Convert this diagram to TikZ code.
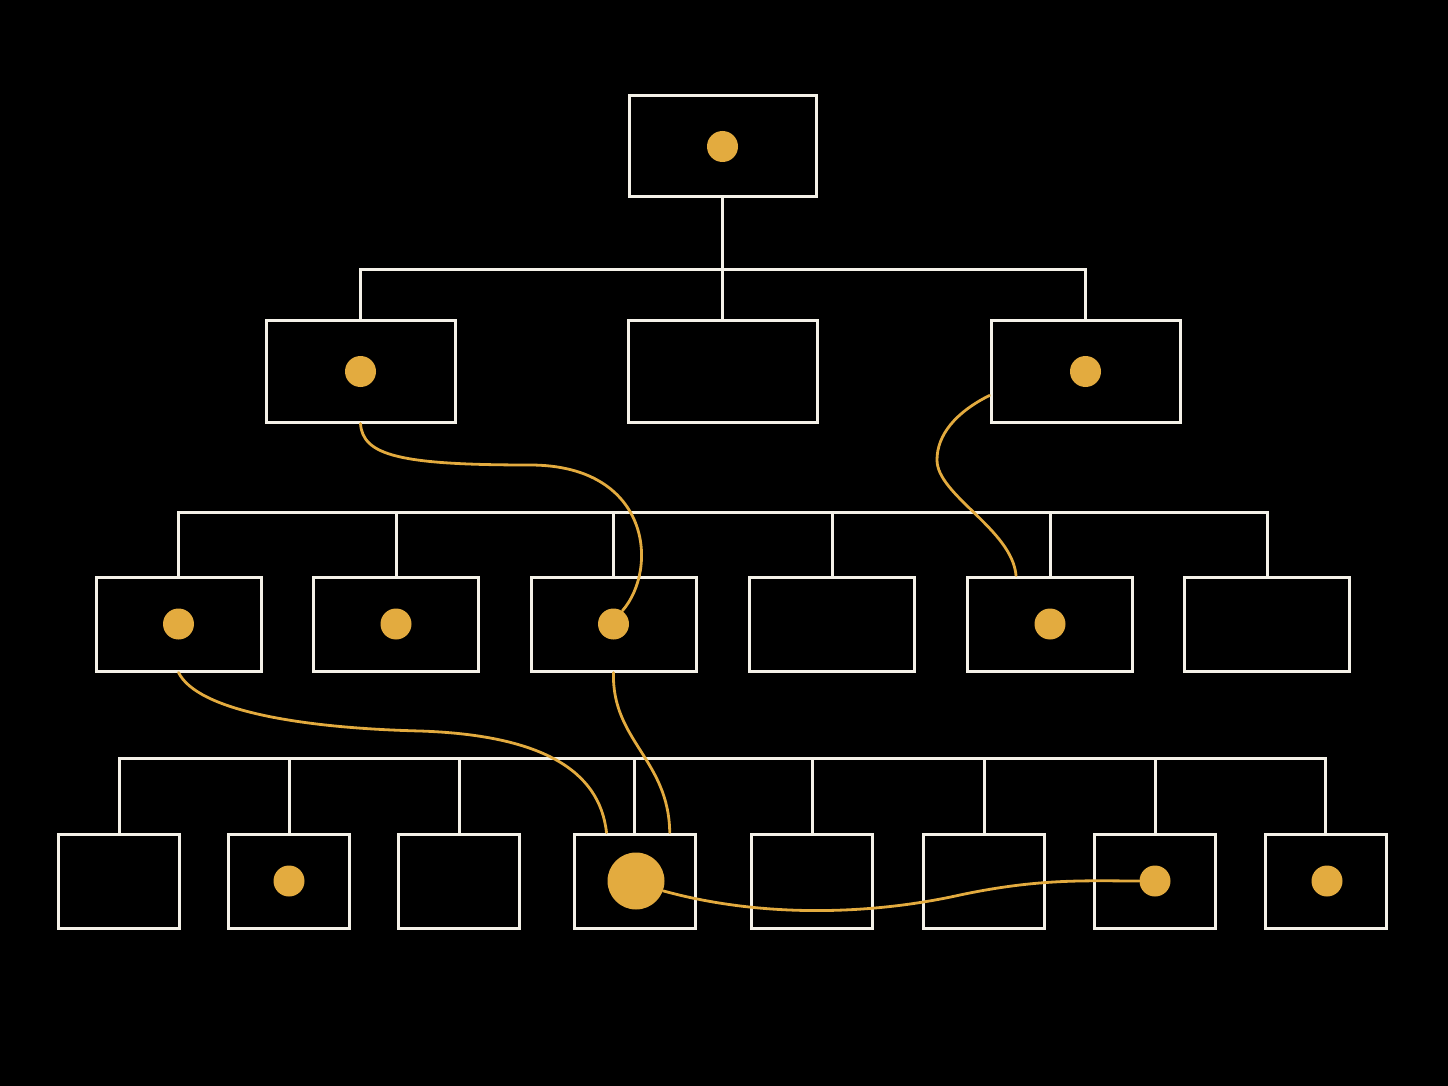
\documentclass[tikz,border=0pt]{standalone}
\definecolor{boxline}{HTML}{F4F1E8}
\definecolor{gold}{HTML}{E3AB3F}
\begin{document}
\begin{tikzpicture}[x=0.5pt,y=-0.5pt,
		box/.style={draw=boxline,line width=1.5pt,fill=black,inner sep=0pt},
		rootbox/.style={box,minimum width=93.5pt,minimum height=50.5pt},
		pbox/.style={box,minimum width=94.5pt,minimum height=50.5pt},
		cbox/.style={box,minimum width=82.5pt,minimum height=47pt},
		leafbox/.style={box,minimum width=60.5pt,minimum height=47pt},
		golddot/.style={circle,fill=gold,inner sep=0pt,minimum size=15.5pt},
		wire/.style={boxline,line width=1.5pt},
		trail/.style={gold,line width=1.4pt,line cap=round}]
			\fill[black] (0,0) rectangle (1448,1086);
			% boxes
			\node[rootbox] (root) at (722.5,146.5) {};
			\node[pbox] (b11) at (360.5,371.5) {};
			\node[pbox] (b12) at (722.5,371.5) {};
			\node[pbox] (b13) at (1085.5,371.5) {};
			\node[cbox] (b21) at (178.5,624) {};
			\node[cbox] (b22) at (396,624) {};
			\node[cbox] (b23) at (613.5,624) {};
			\node[cbox] (b24) at (832,624) {};
			\node[cbox] (b25) at (1050,624) {};
			\node[cbox] (b26) at (1267,624) {};
			\node[leafbox] (b31) at (119,881) {};
			\node[leafbox] (b32) at (289,881) {};
			\node[leafbox] (b33) at (459,881) {};
			\node[leafbox] (b34) at (634.5,881) {};
			\node[leafbox] (b35) at (812,881) {};
			\node[leafbox] (b36) at (984,881) {};
			\node[leafbox] (b37) at (1155,881) {};
			\node[leafbox] (b38) at (1325.5,881) {};
			% buses
			\coordinate (bus1) at (722.5,270);
			\coordinate (bus2) at (722.5,512);
			\coordinate (bus3) at (722.5,758);
			\draw[wire] (root.south)--(root.south |- bus1);
			\draw[wire] (b11.north) |- (bus1) -| (b13.north);
			\draw[wire] (b12.north)--(b12.north |- bus1);
			\draw[wire] (b21.north) |- (bus2) -| (b26.north);
			\draw[wire] (b22.north)--(b22.north |- bus2) (b23.north)--(b23.north |- bus2)
			(b24.north)--(b24.north |- bus2) (b25.north)--(b25.north |- bus2);
			\draw[wire] (b31.north) |- (bus3) -| (b38.north);
			\draw[wire] (b32.north)--(b32.north |- bus3) (b33.north)--(b33.north |- bus3)
			(b34.north)--(b34.north |- bus3) (b35.north)--(b35.north |- bus3)
			(b36.north)--(b36.north |- bus3) (b37.north)--(b37.north |- bus3);
			% dots
			\node[golddot] (d0) at (root) {};
			\node[golddot] (d11) at (b11) {};
			\node[golddot] (d13) at (b13) {};
			\node[golddot] (d21) at (b21) {};
			\node[golddot] (d22) at (b22) {};
			\node[golddot] (d23) at (b23) {};
			\node[golddot] (d25) at (b25) {};
			\node[golddot] (d32) at (b32) {};
			\node[golddot,minimum size=28.5pt] (d34) at (636,881) {};
			\node[golddot] (d37) at (b37) {};
			\node[golddot] (d38) at (1327,881) {};
			% trails
			\coordinate (bend1) at (530,465);
			\coordinate (bend2) at (937,460);
			\coordinate (bend3) at (420,731);
			\coordinate (bend5) at (960,895);
			\draw[trail] (b11.south) .. controls +(2,32) and +(-130,0) .. (bend1)
			.. controls +(120,0) and +(37,-43) .. (d23.56);
			\draw[trail] (b13.194) .. controls +(-34,17) and +(0,-25) .. (bend2)
			.. controls +(0,35) and +(-4,-46) .. (b25.125);
			\draw[trail] (b21.south) .. controls +(19,38) and +(-120,-3) .. (bend3)
			.. controls +(120,4) and +(-7,-63) .. (b34.120);
			\draw[trail] (b23.south) .. controls +(-2,68) and +(-1,-73) .. (b34.54);
			\draw[trail] (d34.-20) .. controls +(98,27) and +(-90,20) .. (bend5)
			.. controls +(80,-17) and +(-50,0) .. (d37.west);
	\end{tikzpicture}
\end{document}
